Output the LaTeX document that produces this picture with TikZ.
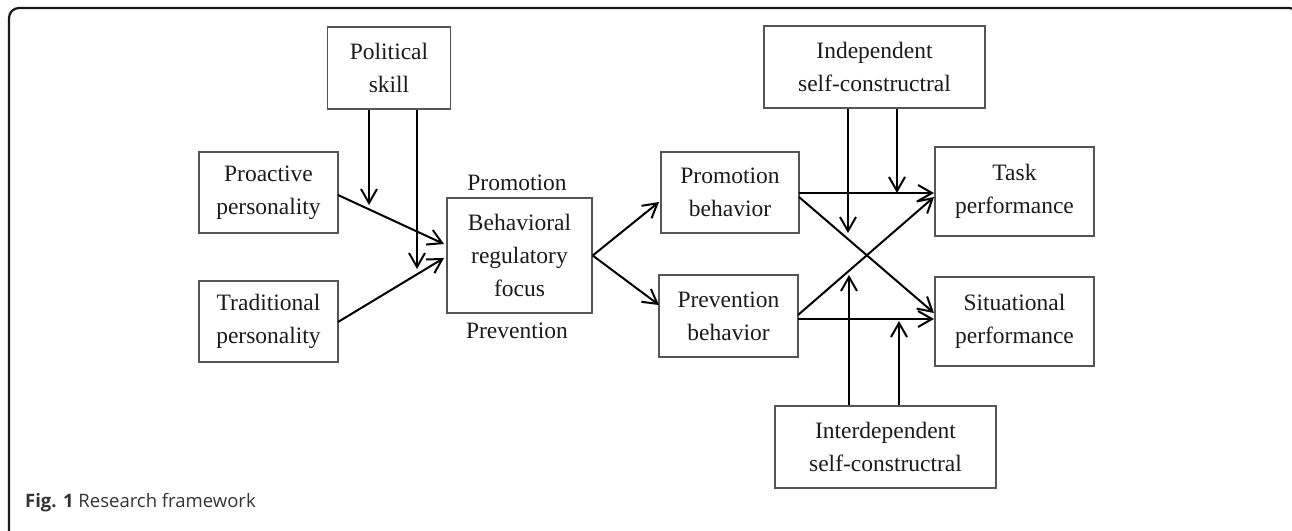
\documentclass[tikz,border=0pt]{standalone}
\usepackage{fontspec}
\setmainfont{Liberation Serif}
\newfontfamily\capfont{Open Sans}
\usetikzlibrary{arrows.meta}
\definecolor{boxline}{HTML}{555555}
\definecolor{txt}{HTML}{1A1A1A}
\definecolor{captxt}{HTML}{333333}
\tikzset{
  box/.style={draw=boxline, line width=1.4pt, text=txt, align=center,
    inner sep=0pt, font=\fontsize{23.5}{33}\selectfont},
  lbl/.style={text=txt, inner sep=0pt, font=\fontsize{23.5}{33}\selectfont},
  conn/.style={line width=2pt, draw=black,
    -{Straight Barb[length=14pt,width=16pt,line width=2pt]}},
}
\begin{document}
\begin{tikzpicture}[x=1pt,y=-1pt]
\useasboundingbox (0,0) rectangle (1292,530);
\clip (0,0) rectangle (1292,530);
% outer frame
\draw[line width=2.2pt, draw=black!90, rounded corners=10pt] (9,560) -- (9,8) -- (1299,8) -- (1299,560);
% boxes
\node[box, minimum width=123pt, minimum height=82pt] (ps) at (389,68) {Political\\skill};
\node[box, minimum width=139pt, minimum height=81pt] (pa) at (268.5,192.5) {Proactive\\personality};
\node[box, minimum width=139pt, minimum height=81pt] (tp) at (268.5,321.5) {Traditional\\personality};
\node[box, minimum width=145pt, minimum height=115pt] (brf) at (519.5,255.5) {Behavioral\\regulatory\\focus};
\node[lbl] (prom) at (517,183) {Promotion};
\node[lbl] (prev) at (517,331) {Prevention};
\node[box, minimum width=138pt, minimum height=81pt] (pb) at (730,192.5) {Promotion\\behavior};
\node[box, minimum width=139pt, minimum height=82pt] (vb) at (728.5,316) {Prevention\\behavior};
\node[box, minimum width=221pt, minimum height=82pt] (ind) at (874.5,67) {Independent\\self-constructral};
\node[box, minimum width=159pt, minimum height=89pt] (task) at (1014.5,191.5) {Task\\performance};
\node[box, minimum width=159pt, minimum height=89pt] (sit) at (1014.5,321.5) {Situational\\performance};
\node[box, minimum width=221pt, minimum height=82pt] (inter) at (885.5,447) {Interdependent\\self-constructral};
% caption
\node[anchor=base west, inner sep=0pt, text=captxt, font=\capfont\fontsize{18.5}{22}\selectfont] (cap) at (25,507) {\textbf{Fig. 1} Research framework};
% coordinates for arrow ends
\coordinate (ps1) at (369,205);
\coordinate (ps2) at (417,269);
\coordinate (b1) at (444,244);
\coordinate (b2) at (444,258);
\coordinate (pa0) at (338,195);
\coordinate (tp0) at (338,322);
\coordinate (pbin) at (659,202);
\coordinate (vbin) at (659,305);
\coordinate (pb1) at (799,193);
\coordinate (pb2) at (799,197);
\coordinate (vb1) at (798,315);
\coordinate (vb2) at (798,319);
\coordinate (t1) at (934,193);
\coordinate (t2) at (934,197);
\coordinate (s1) at (934,313);
\coordinate (s2) at (934,319);
\coordinate (i1) at (848,233);
\coordinate (i2) at (897,193);
\coordinate (j1) at (849,275);
\coordinate (j2) at (899,321);
% connectors
\draw[conn] (ps.south -| ps1) -- (ps1);
\draw[conn] (ps.south -| ps2) -- (ps2);
\draw[conn] (pa0) -- (b1);
\draw[conn] (tp0) -- (b2);
\draw[conn] (brf.east) -- (pbin);
\draw[conn] (brf.east) -- (vbin);
\draw[conn] (pb1) -- (t1);
\draw[conn] (pb2) -- (s1);
\draw[conn] (vb1) -- (t2);
\draw[conn] (vb2) -- (s2);
\draw[conn] (ind.south -| i1) -- (i1);
\draw[conn] (ind.south -| i2) -- (i2);
\draw[conn] (inter.north -| j1) -- (j1);
\draw[conn] (inter.north -| j2) -- (j2);
\end{tikzpicture}
\end{document}
